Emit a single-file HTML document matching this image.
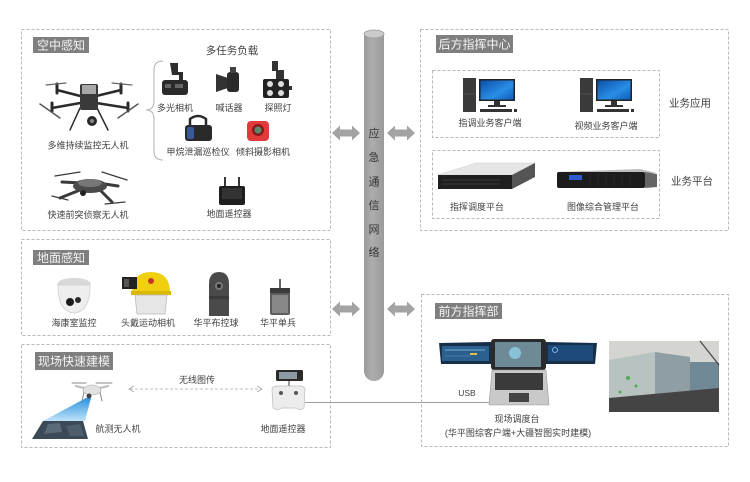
<!DOCTYPE html>
<html><head><meta charset="utf-8"><style>
html,body{margin:0;padding:0;background:#fff;}
svg{display:block;}
text{font-family:"Liberation Sans","Noto Sans CJK SC",sans-serif;fill:#404040;}
.l{font-size:9px;}
.m{font-size:10.5px;}
.t{font-size:12px;fill:#f4f4f4;}
.p{font-size:11px;fill:#333;}
</style></head><body>
<svg width="750" height="482" viewBox="0 0 750 482" xmlns="http://www.w3.org/2000/svg">
<defs>
<linearGradient id="pipe" x1="0" x2="1" y1="0" y2="0"><stop offset="0" stop-color="#999"/><stop offset="0.4" stop-color="#adadad"/><stop offset="1" stop-color="#9a9a9a"/></linearGradient>
<linearGradient id="scr" x1="0" x2="1" y1="0" y2="1"><stop offset="0" stop-color="#0a4fa8"/><stop offset="0.6" stop-color="#2a8ee6"/><stop offset="1" stop-color="#0b5cb8"/></linearGradient>
<linearGradient id="beam" x1="0" x2="0" y1="0" y2="1"><stop offset="0" stop-color="#1787de"/><stop offset="1" stop-color="#b8e0f6"/></linearGradient>
</defs>

<!-- dashed boxes -->
<g fill="none" stroke="#b8b8b8" stroke-width="1" stroke-dasharray="3,2">
<rect x="21.5" y="29.5" width="309" height="201"/>
<rect x="21.5" y="239.5" width="309" height="96"/>
<rect x="21.5" y="344.5" width="309" height="103"/>
<rect x="420.5" y="29.5" width="308" height="201"/>
<rect x="432.5" y="70.5" width="227" height="67"/>
<rect x="432.5" y="150.5" width="227" height="68"/>
<rect x="421.5" y="294.5" width="307" height="152"/>
</g>

<!-- title tags -->
<rect x="33" y="37" width="56" height="16" fill="#7f7f7f"/>
<text class="t" x="61" y="49.5" text-anchor="middle">空中感知</text>
<rect x="33" y="250" width="56" height="15" fill="#7f7f7f"/>
<text class="t" x="61" y="262" text-anchor="middle">地面感知</text>
<rect x="35" y="352" width="78" height="18" fill="#7f7f7f"/>
<text class="t" x="74" y="365.5" text-anchor="middle">现场快速建模</text>
<rect x="436" y="35" width="77" height="18" fill="#7f7f7f"/>
<text class="t" x="474.5" y="48.5" text-anchor="middle">后方指挥中心</text>
<rect x="435" y="303" width="67" height="16" fill="#7f7f7f"/>
<text class="t" x="468.5" y="315.5" text-anchor="middle">前方指挥部</text>

<!-- pipe -->
<path d="M364,34 L364,371 A10,10 0 0 0 384,371 L384,34 Z" fill="url(#pipe)"/>
<ellipse cx="374" cy="34" rx="10" ry="4" fill="#cbcbcb" stroke="#9a9a9a" stroke-width="0.8"/>
<text class="p" x="374" y="137" text-anchor="middle">应</text>
<text class="p" x="374" y="161" text-anchor="middle">急</text>
<text class="p" x="374" y="185.5" text-anchor="middle">通</text>
<text class="p" x="374" y="209" text-anchor="middle">信</text>
<text class="p" x="374" y="233" text-anchor="middle">网</text>
<text class="p" x="374" y="256" text-anchor="middle">络</text>

<!-- block arrows -->
<g fill="#a3a3a3">
<polygon points="332,133 340,125.5 340,129.5 352,129.5 352,125.5 360,133 352,140.5 352,136.5 340,136.5 340,140.5"/>
<polygon points="387,133 395,125.5 395,129.5 407,129.5 407,125.5 415,133 407,140.5 407,136.5 395,136.5 395,140.5"/>
<polygon points="332,309 340,301.5 340,305.5 352,305.5 352,301.5 360,309 352,316.5 352,312.5 340,312.5 340,316.5"/>
<polygon points="387,309 395,301.5 395,305.5 407,305.5 407,301.5 415,309 407,316.5 407,312.5 395,312.5 395,316.5"/>
</g>

<!-- ===== Box 1 ===== -->
<text class="m" x="232" y="54" text-anchor="middle">多任务负载</text>
<path d="M163,61 Q154,61 154,70 L154,101 Q154,110 146,110 Q154,110 154,119 L154,151 Q154,160 163,160" fill="none" stroke="#b0b0b0" stroke-width="1"/>

<!-- big drone M300 -->
<g stroke="#2b2b2b" stroke-linecap="round" fill="none">
<line x1="88" y1="98" x2="57" y2="90" stroke-width="2.5"/>
<line x1="88" y1="98" x2="121" y2="90" stroke-width="2.5"/>
<line x1="86" y1="102" x2="52" y2="108" stroke-width="2.5"/>
<line x1="90" y1="102" x2="128" y2="108" stroke-width="2.5"/>
<line x1="57" y1="84" x2="57" y2="93" stroke-width="3"/>
<line x1="121" y1="84" x2="121" y2="93" stroke-width="3"/>
<line x1="52" y1="103" x2="52" y2="111" stroke-width="3"/>
<line x1="128" y1="103" x2="128" y2="111" stroke-width="3"/>
<line x1="40" y1="104" x2="60" y2="118" stroke-width="1.5" stroke="#555"/>
<line x1="118" y1="118" x2="138" y2="104" stroke-width="1.5" stroke="#555"/>
<line x1="46" y1="85" x2="66" y2="83" stroke-width="1.2" stroke="#666"/>
<line x1="112" y1="83" x2="132" y2="85" stroke-width="1.2" stroke="#666"/>
<line x1="80" y1="108" x2="70" y2="130" stroke-width="1.5"/>
<line x1="97" y1="108" x2="108" y2="130" stroke-width="1.5"/>
</g>
<rect x="80" y="84" width="18" height="26" rx="2" fill="#3a3a3a"/>
<rect x="82" y="85" width="14" height="9" fill="#a8a8a8"/>
<circle cx="92" cy="121" r="5" fill="#2a2a2a"/>
<circle cx="92" cy="121" r="2" fill="#888"/>
<text class="l" x="88" y="148.5" text-anchor="middle">多维持续监控无人机</text>

<!-- payloads -->
<path d="M170,63 L178,63 L178,72 L183,72 L183,82 L179,82 L179,75 L172,75 Z" fill="#2e2e2e"/>
<rect x="162" y="80" width="26" height="15" rx="3" fill="#2a2a2a"/>
<rect x="165" y="84" width="6" height="4" fill="#666"/>
<rect x="175" y="84" width="8" height="4" fill="#666"/>
<text class="l" x="175" y="111" text-anchor="middle">多光相机</text>
<polygon points="216,74 228,78 228,88 216,92" fill="#333"/>
<rect x="227" y="72" width="12" height="20" rx="3" fill="#2a2a2a"/>
<rect x="230" y="67" width="6" height="6" fill="#444"/>
<text class="l" x="229" y="111" text-anchor="middle">喊话器</text>
<rect x="272" y="61" width="6" height="10" fill="#333"/>
<rect x="276" y="70" width="8" height="10" fill="#333"/>
<rect x="263" y="79" width="26" height="19" rx="2" fill="#222"/>
<rect x="289" y="86" width="3" height="4" fill="#333"/>
<circle cx="270" cy="84" r="3" fill="#ddd"/>
<circle cx="281" cy="84" r="3" fill="#ddd"/>
<circle cx="270" cy="93" r="3" fill="#ddd"/>
<circle cx="281" cy="93" r="3" fill="#ddd"/>
<text class="l" x="278" y="111" text-anchor="middle">探照灯</text>
<path d="M190,126 L190,119 Q198,113 206,119 L206,126" fill="none" stroke="#2a2a2a" stroke-width="2.5"/>
<rect x="185" y="125" width="27" height="16" rx="3" fill="#2a2a2a"/>
<rect x="187" y="127" width="7" height="12" rx="2" fill="#3a5a9a"/>
<text class="l" x="198" y="155" text-anchor="middle">甲烷泄漏巡检仪</text>
<rect x="247" y="121" width="22" height="20" rx="4" fill="#e03a3a"/>
<circle cx="258" cy="130" r="6" fill="#8a1a1a"/>
<circle cx="258" cy="130" r="3.5" fill="#5a8a6a"/>
<text class="l" x="263" y="155" text-anchor="middle">倾斜摄影相机</text>

<!-- quick drone -->
<g stroke="#3a3a3a" stroke-linecap="round" fill="none">
<line x1="55" y1="176" x2="80" y2="172" stroke-width="1.3"/>
<line x1="102" y1="172" x2="127" y2="180" stroke-width="1.3"/>
<line x1="82" y1="183" x2="62" y2="182" stroke-width="3"/>
<line x1="98" y1="183" x2="118" y2="186" stroke-width="3"/>
<line x1="80" y1="190" x2="60" y2="198" stroke-width="3"/>
<line x1="100" y1="190" x2="112" y2="202" stroke-width="3"/>
<line x1="52" y1="196" x2="68" y2="200" stroke-width="1.2"/>
<line x1="105" y1="204" x2="125" y2="202" stroke-width="1.2"/>
</g>
<ellipse cx="90" cy="186" rx="17" ry="7" fill="#4a4a4a"/>
<ellipse cx="90" cy="183" rx="12" ry="4" fill="#777"/>
<circle cx="83" cy="193" r="3" fill="#222"/>
<text class="l" x="88" y="218" text-anchor="middle">快速前突侦察无人机</text>

<!-- remote controller -->
<line x1="225" y1="177" x2="225" y2="187" stroke="#222" stroke-width="1.8"/>
<line x1="239" y1="177" x2="239" y2="187" stroke="#222" stroke-width="1.8"/>
<rect x="219" y="186" width="26" height="19" rx="2" fill="#1e1e1e"/>
<rect x="222" y="188" width="20" height="11" fill="#333"/>
<text class="l" x="229" y="217" text-anchor="middle">地面遥控器</text>

<!-- ===== Box 2 ===== -->
<path d="M57,285 Q58,278 74,278 Q90,278 91,285 Z" fill="#d8d8d8"/>
<path d="M58,285 L90,285 Q90,312 74,313 Q58,312 58,285 Z" fill="#eeeeee" stroke="#cfcfcf" stroke-width="0.8"/>
<circle cx="70" cy="302" r="4" fill="#1a1a1a"/>
<circle cx="78" cy="300" r="3" fill="#2a2a2a"/>
<text class="l" x="74" y="326" text-anchor="middle">海康室监控</text>
<path d="M132,293 Q132,272 151,272 Q170,272 170,293 Z" fill="#f0cf10"/>
<rect x="131" y="291" width="40" height="4" fill="#d9b800"/>
<path d="M135,295 L167,295 L165,314 L137,314 Z" fill="#e6e6e6" stroke="#bbb" stroke-width="0.8"/>
<circle cx="151" cy="281" r="3" fill="#c0392b"/>
<rect x="122" y="277" width="15" height="12" fill="#222"/>
<rect x="124" y="279" width="5" height="8" fill="#555"/>
<text class="l" x="148" y="326" text-anchor="middle">头戴运动相机</text>
<path d="M209,316 L209,284 Q209,272 219,272 Q229,272 229,284 L229,316 Z" fill="#4a4a4a"/>
<rect x="209" y="296" width="20" height="3" fill="#3a3a3a"/>
<circle cx="219" cy="286" r="4" fill="#777"/>
<circle cx="219" cy="286" r="2" fill="#222"/>
<text class="l" x="216" y="326" text-anchor="middle">华平布控球</text>
<line x1="280" y1="279" x2="280" y2="289" stroke="#333" stroke-width="1.5"/>
<rect x="270" y="288" width="20" height="27" rx="2" fill="#5e5e5e"/>
<rect x="270" y="288" width="20" height="5" fill="#3a3a3a"/>
<rect x="272" y="295" width="16" height="18" fill="#888"/>
<text class="l" x="278" y="326" text-anchor="middle">华平单兵</text>

<!-- ===== Box 3 ===== -->
<polygon points="43,421 83,421 88,439 32,439" fill="#3c4a58"/>
<polygon points="48,424 60,423 62,432 44,434" fill="#5a6a78"/>
<polygon points="66,426 80,424 84,436 70,436" fill="#4e5e6c"/>
<polygon points="86,398 91,398 85,421 43,421" fill="url(#beam)" opacity="0.9"/>
<g stroke="#888" stroke-linecap="round">
<line x1="72" y1="383" x2="86" y2="383" stroke-width="1"/>
<line x1="96" y1="383" x2="112" y2="383" stroke-width="1"/>
<line x1="76" y1="386" x2="88" y2="389" stroke-width="2" stroke="#bbb"/>
<line x1="108" y1="386" x2="96" y2="389" stroke-width="2" stroke="#bbb"/>
<line x1="84" y1="392" x2="82" y2="401" stroke-width="1"/>
<line x1="100" y1="392" x2="102" y2="401" stroke-width="1"/>
</g>
<ellipse cx="92" cy="390" rx="9" ry="5" fill="#e2e2e2" stroke="#aaa" stroke-width="0.6"/>
<circle cx="89" cy="396" r="2.5" fill="#444"/>
<text class="l" x="118" y="432" text-anchor="middle">航测无人机</text>
<text class="l" x="197" y="383" text-anchor="middle">无线图传</text>
<line x1="130" y1="389" x2="261" y2="389" stroke="#a8a8a8" stroke-width="0.8" stroke-dasharray="3,2"/>
<path d="M134,386 L129,389 L134,392" fill="none" stroke="#a8a8a8" stroke-width="0.8"/>
<path d="M257,386 L262,389 L257,392" fill="none" stroke="#a8a8a8" stroke-width="0.8"/>
<rect x="276" y="370" width="27" height="11" rx="1.5" fill="#2a2a2a"/>
<rect x="279" y="372" width="18" height="7" fill="#8a9aa5"/>
<line x1="289" y1="381" x2="289" y2="387" stroke="#777" stroke-width="1.5"/>
<path d="M272,390 Q272,386 278,386 L300,386 Q305,386 305,390 L304,408 Q300,411 295,408 L282,408 Q277,411 273,408 Z" fill="#ececec" stroke="#bbb" stroke-width="0.7"/>
<circle cx="281" cy="393" r="2" fill="#555"/>
<circle cx="296" cy="393" r="2" fill="#555"/>
<text class="l" x="283" y="432" text-anchor="middle">地面遥控器</text>

<line x1="305" y1="402.5" x2="491" y2="402.5" stroke="#a0a0a0" stroke-width="1"/>
<text class="l" x="467" y="396" text-anchor="middle" style="font-size:8.5px">USB</text>

<!-- ===== Right box 1 ===== -->
<rect x="463" y="78" width="13" height="34" fill="#3a3a3a"/>
<line x1="463" y1="94" x2="476" y2="94" stroke="#555" stroke-width="0.8"/>
<rect x="479" y="79" width="36" height="22" fill="#222"/>
<rect x="480.5" y="80.5" width="33" height="19" fill="url(#scr)"/>
<rect x="494" y="101" width="6" height="5" fill="#333"/>
<rect x="488" y="105" width="18" height="2" fill="#333"/>
<rect x="480" y="109" width="32" height="3" fill="#333"/>
<rect x="514" y="109" width="3" height="3" fill="#333"/>
<text class="l" x="490" y="126" text-anchor="middle">指调业务客户端</text>
<rect x="580" y="78" width="13" height="34" fill="#3a3a3a"/>
<line x1="580" y1="94" x2="593" y2="94" stroke="#555" stroke-width="0.8"/>
<rect x="596" y="79" width="36" height="22" fill="#222"/>
<rect x="597.5" y="80.5" width="33" height="19" fill="url(#scr)"/>
<rect x="611" y="101" width="6" height="5" fill="#333"/>
<rect x="605" y="105" width="18" height="2" fill="#333"/>
<rect x="597" y="109" width="32" height="3" fill="#333"/>
<rect x="631" y="109" width="3" height="3" fill="#333"/>
<text class="l" x="606" y="129" text-anchor="middle">视频业务客户端</text>
<text class="m" x="690" y="106.5" text-anchor="middle">业务应用</text>

<polygon points="438,175 476,163 535,163 512,175" fill="#e6e6e6" stroke="#ccc" stroke-width="0.5"/>
<rect x="438" y="175" width="74" height="14" fill="#1f1f1f"/>
<polygon points="512,175 535,163 535,177 512,189" fill="#555"/>
<g stroke="#555" stroke-width="0.6">
<line x1="442" y1="180" x2="500" y2="180"/>
<line x1="442" y1="184" x2="500" y2="184"/>
</g>
<text class="l" x="477" y="210" text-anchor="middle">指挥调度平台</text>
<polygon points="557,172 640,169 657,173 574,176" fill="#bdbdbd"/>
<rect x="557" y="172" width="88" height="16" rx="2" fill="#1c1c1c"/>
<polygon points="645,172 657,174 657,187 645,188" fill="#666"/>
<rect x="569" y="175" width="13" height="5" fill="#2a5cd0"/>
<g stroke="#333" stroke-width="0.6">
<line x1="590" y1="174" x2="590" y2="186"/><line x1="598" y1="174" x2="598" y2="186"/>
<line x1="606" y1="174" x2="606" y2="186"/><line x1="614" y1="174" x2="614" y2="186"/>
<line x1="622" y1="174" x2="622" y2="186"/><line x1="630" y1="174" x2="630" y2="186"/>
</g>
<text class="l" x="603" y="210" text-anchor="middle">图像综合管理平台</text>
<text class="m" x="692" y="184.5" text-anchor="middle">业务平台</text>

<!-- ===== Right box 2 ===== -->
<polygon points="439,343 492,342 492,364 441,364" fill="#17304a"/>
<rect x="442" y="346" width="47" height="15" fill="#2a5f8e"/>
<line x1="445" y1="350" x2="485" y2="350" stroke="#8fc6ee" stroke-width="0.8"/>
<line x1="445" y1="356" x2="470" y2="356" stroke="#5f9ccc" stroke-width="0.6"/>
<rect x="470" y="353" width="7" height="2" fill="#e0c040"/>
<polygon points="545,342 597,343 595,364 545,364" fill="#17304a"/>
<rect x="548" y="345" width="45" height="16" fill="#1d4a78"/>
<circle cx="555" cy="350" r="2.5" fill="none" stroke="#8fd0ff" stroke-width="0.8"/>
<rect x="491" y="339" width="55" height="31" rx="3" fill="#2a2a2a"/>
<rect x="495" y="342" width="46" height="25" fill="#6d8a96"/>
<circle cx="515" cy="353" r="6" fill="#8fd0e8" opacity="0.8"/>
<polygon points="492,370 546,370 549,405 489,405" fill="#c9c9c9" stroke="#999" stroke-width="0.6"/>
<rect x="495" y="373" width="48" height="17" fill="#3a3a3a"/>
<rect x="509" y="393" width="20" height="9" fill="#444"/>
<text class="l" x="517" y="422" text-anchor="middle">现场调度台</text>
<text class="l" x="518" y="436" text-anchor="middle">(华平图综客户端+大疆智图实时建模)</text>
<!-- photo -->
<rect x="609" y="341" width="110" height="71" fill="#6f7672"/>
<rect x="609" y="341" width="110" height="22" fill="#d4d4d0"/>
<polygon points="609,360 655,352 655,398 609,406" fill="#b8c2c0"/>
<circle cx="628" cy="378" r="2" fill="#4caf50"/>
<circle cx="636" cy="386" r="1.5" fill="#4caf50"/>
<circle cx="620" cy="392" r="1.5" fill="#4caf50"/>
<polygon points="655,352 690,357 690,394 655,398" fill="#8e9ea2"/>
<polygon points="690,362 718,362 718,388 690,392" fill="#6f8a96"/>
<polygon points="609,398 719,388 719,412 609,412" fill="#444"/>
<line x1="700" y1="341" x2="719" y2="365" stroke="#444" stroke-width="1.2"/>
</svg>
</body></html>
